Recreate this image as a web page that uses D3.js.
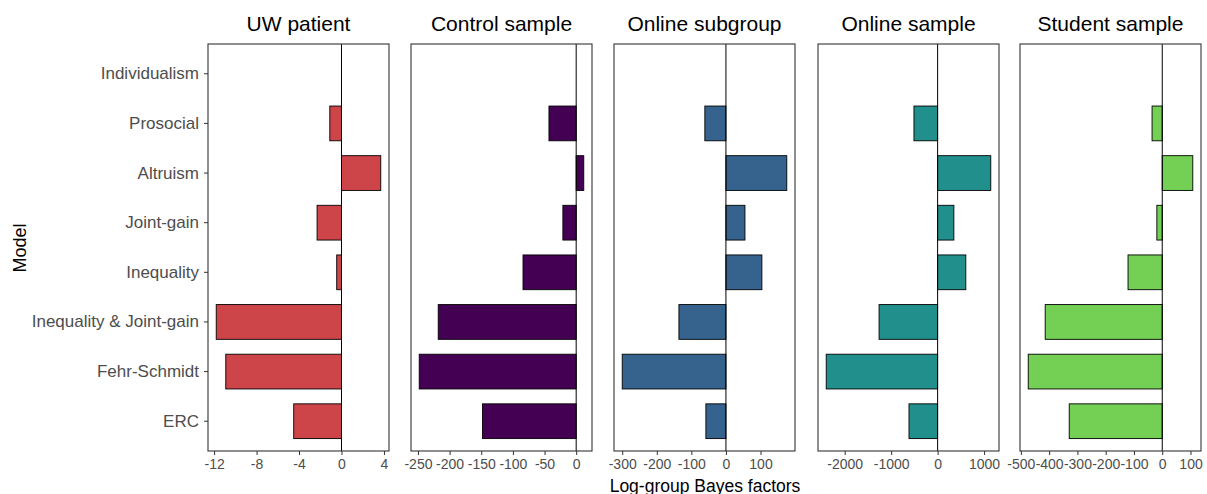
<!DOCTYPE html>
<html>
<head>
<meta charset="utf-8">
<script src="https://cdn.jsdelivr.net/npm/d3@7"></script>
<style>
  body { margin: 0; background: #fff; }
  svg { font-family: "Liberation Sans", Arial, sans-serif; }
  .tick text { fill: #4d4d4d; }
  .tick line { stroke: #333; }
</style>
</head>
<body>
<div id="chart"></div>
<script>
// categories, top to bottom
var models = ['Individualism', 'Prosocial', 'Altruism', 'Joint-gain', 'Inequality',
  'Inequality & Joint-gain', 'Fehr-Schmidt', 'ERC'];

var panelTitles = ['UW patient', 'Control sample', 'Online subgroup', 'Online sample', 'Student sample'];

// log-group Bayes factors per sample, in models order
var uwPatient = [0, -1.1, 3.7, -2.3, -0.45, -11.8, -10.9, -4.5];
var controlSample = [0, -43, 12, -21, -84, -218, -248, -148];
var onlineSubgroup = [0, -61, 176, 55, 104, -136, -300, -58];
var onlineSample = [0, -509, 1144, 350, 607, -1260, -2397, -616];
var studentSample = [0, -36, 108, -19, -121, -414, -474, -329];

var tickSets = [
  [-12, -8, -4, 0, 4],
  [-250, -200, -150, -100, -50, 0],
  [-300, -200, -100, 0, 100],
  [-2000, -1000, 0, 1000],
  [-500, -400, -300, -200, -100, 0, 100]
];

var colors = ['#cd4449', '#440154', '#35638d', '#21908c', '#73d055'];

var series = [uwPatient, controlSample, onlineSubgroup, onlineSample, studentSample];

var W = 1207, H = 494;
var plotTop = 44, plotBottom = 451;
var panelLeft = [208, 411, 614, 818, 1020];
var panelW = 181;

var svg = d3.select('#chart').append('svg')
  .attr('width', W).attr('height', H);

// discrete y, bars 0.7 wide, 0.6 expansion like ggplot
var y = d3.scaleBand()
  .domain(models)
  .range([plotTop, plotBottom])
  .paddingInner(0.3)
  .paddingOuter(0.25);

series.forEach(function (vals, i) {
  var x0 = panelLeft[i];
  var lo = Math.min(0, d3.min(vals)), hi = Math.max(0, d3.max(vals));
  var pad = (hi - lo) * 0.05;
  var x = d3.scaleLinear().domain([lo - pad, hi + pad]).range([x0, x0 + panelW]);

  var g = svg.append('g');

  // bars
  g.selectAll('rect.bar')
    .data(models.map(function (m, j) { return { m: m, v: vals[j] }; }))
    .enter().append('rect')
    .attr('class', 'bar')
    .attr('x', function (d) { return x(Math.min(0, d.v)); })
    .attr('width', function (d) { return Math.abs(x(d.v) - x(0)); })
    .attr('y', function (d) { return y(d.m); })
    .attr('height', y.bandwidth())
    .attr('fill', colors[i])
    .attr('stroke', '#000')
    .attr('stroke-width', function (d) { return d.v === 0 ? 0 : 0.9; });

  // zero line
  g.append('line')
    .attr('x1', x(0)).attr('x2', x(0))
    .attr('y1', plotTop).attr('y2', plotBottom)
    .attr('stroke', '#000').attr('stroke-width', 1);

  // panel border
  g.append('rect')
    .attr('x', x0).attr('y', plotTop)
    .attr('width', panelW).attr('height', plotBottom - plotTop)
    .attr('fill', 'none').attr('stroke', '#333').attr('stroke-width', 1.1);

  // x axis
  var xa = g.append('g')
    .attr('transform', 'translate(0,' + plotBottom + ')')
    .call(d3.axisBottom(x).tickValues(tickSets[i]).tickSize(4).tickPadding(4)
      .tickFormat(function (d) { return String(d); }));
  xa.select('.domain').remove();
  xa.selectAll('text').attr('font-size', 14).attr('font-family', '"Liberation Sans", Arial, sans-serif');

  // title
  svg.append('text')
    .attr('x', x0 + panelW / 2).attr('y', 31)
    .attr('text-anchor', 'middle')
    .attr('font-size', 21)
    .attr('fill', '#000')
    .text(panelTitles[i]);
});

// y axis on the first panel
var ya = svg.append('g')
  .attr('transform', 'translate(' + panelLeft[0] + ',0)')
  .call(d3.axisLeft(y).tickSize(4).tickPadding(5));
ya.select('.domain').remove();
ya.selectAll('text').attr('font-size', 17).attr('font-family', '"Liberation Sans", Arial, sans-serif');

svg.append('text')
  .attr('transform', 'translate(26,248) rotate(-90)')
  .attr('text-anchor', 'middle')
  .attr('font-size', 18)
  .attr('fill', '#000')
  .text('Model');

svg.append('text')
  .attr('x', 705).attr('y', 492)
  .attr('text-anchor', 'middle')
  .attr('font-size', 17.5)
  .attr('fill', '#000')
  .text('Log-group Bayes factors');
</script>
</body>
</html>
